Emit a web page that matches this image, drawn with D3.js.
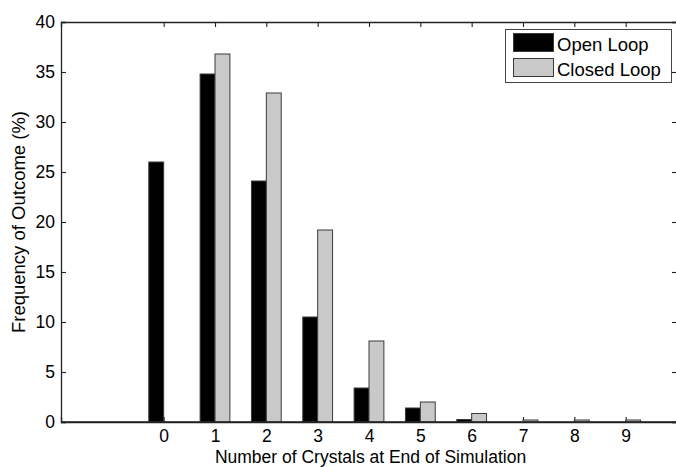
<!DOCTYPE html>
<html>
<head>
<meta charset="utf-8">
<script src="https://cdn.jsdelivr.net/npm/d3@7"></script>
<style>
  body { margin: 0; background: #fff; }
  svg text { font-family: "Liberation Sans", Arial, sans-serif; fill: #000; }
</style>
</head>
<body>
<svg id="chart" width="676" height="467"></svg>
<script>
// data
var crystals = [0, 1, 2, 3, 4, 5, 6, 7, 8, 9]
var openLoop = [26.0, 34.8, 24.1, 10.5, 3.4, 1.4, 0.25, 0, 0, 0]
var closedLoop = [0, 36.8, 32.9, 19.2, 8.1, 2.0, 0.85, 0.2, 0.2, 0.2]
var seriesNames = ["Open Loop", "Closed Loop"]
var seriesColors = ["#000000", "#c9c9c9"]
var yTicks = [0, 5, 10, 15, 20, 25, 30, 35, 40]

var svg = d3.select("#chart")

// plot box (right edge runs just past the picture, as in the figure)
var plotL = 61, plotR = 677, plotT = 22, plotB = 422

var x = d3.scaleLinear().domain([-2, 10]).range([plotL, plotR])
var y = d3.scaleLinear().domain([0, 40]).range([plotB, plotT])

var barW = x(0.29) - x(0)
var xSub = d3.scaleBand().domain(seriesNames).range([-barW, barW]).padding(0)

var axisColor = "#222"
var fontSize = "17.5px"

// axes first so the bars sit over the inward ticks
var gLeft = svg.append("g")
  .attr("transform", "translate(" + plotL + ",0)")
  .call(d3.axisLeft(y).tickValues(yTicks).tickSize(-5).tickPadding(6))
var gBottom = svg.append("g")
  .attr("transform", "translate(0," + plotB + ")")
  .call(d3.axisBottom(x).tickValues(crystals).tickSize(-5).tickPadding(8))
var gTop = svg.append("g")
  .attr("transform", "translate(0," + plotT + ")")
  .call(d3.axisTop(x).tickValues(crystals).tickSize(-5).tickFormat(""))
var gRight = svg.append("g")
  .attr("transform", "translate(" + plotR + ",0)")
  .call(d3.axisRight(y).tickValues(yTicks).tickSize(-5).tickFormat(""))

;[gLeft, gBottom, gTop, gRight].forEach(function (g) {
  g.select(".domain").attr("stroke", axisColor).attr("stroke-width", 1.3)
  g.selectAll(".tick line").attr("stroke", axisColor).attr("stroke-width", 1.1)
  g.selectAll("text").style("font-size", fontSize).attr("fill", "#000")
})

// grouped bars
var rows = crystals.map(function (c, i) {
  return { c: c, vals: [openLoop[i], closedLoop[i]] }
})

var groups = svg.append("g").selectAll("g")
  .data(rows)
  .enter().append("g")
  .attr("transform", function (d) { return "translate(" + x(d.c) + ",0)" })

groups.selectAll("rect")
  .data(function (d) { return d.vals.map(function (v, k) { return { name: seriesNames[k], v: v, k: k } }) })
  .enter().append("rect")
  .filter(function (d) { return d.v > 0 })
  .attr("x", function (d) { return xSub(d.name) })
  .attr("width", xSub.bandwidth())
  .attr("y", function (d) { return y(d.v) })
  .attr("height", function (d) { return y(0) - y(d.v) })
  .attr("fill", function (d) { return seriesColors[d.k] })
  .attr("stroke", "#3a3a3a")
  .attr("stroke-width", 1)

// baseline drawn again on top of bar bottoms
svg.append("line")
  .attr("x1", plotL).attr("x2", plotR)
  .attr("y1", plotB).attr("y2", plotB)
  .attr("stroke", axisColor).attr("stroke-width", 1.3)

// axis titles
svg.append("text")
  .attr("x", (plotL + 676) / 2 + 2)
  .attr("y", 463)
  .style("text-anchor", "middle")
  .style("font-size", fontSize)
  .text("Number of Crystals at End of Simulation")

svg.append("text")
  .attr("transform", "translate(25," + ((plotT + plotB) / 2) + ") rotate(-90)")
  .style("text-anchor", "middle")
  .style("font-size", "18.5px")
  .text("Frequency of Outcome (%)")

// legend
var legend = svg.append("g").attr("transform", "translate(505.5,29.5)")
legend.append("rect")
  .attr("width", 166).attr("height", 53)
  .attr("fill", "#fff").attr("stroke", "#444").attr("stroke-width", 1)

var items = legend.selectAll(".item")
  .data(seriesNames)
  .enter().append("g")
  .attr("class", "item")
  .attr("transform", function (d, i) { return "translate(8," + (4 + i * 25) + ")" })

items.append("rect")
  .attr("width", 40).attr("height", 18)
  .attr("fill", function (d, i) { return seriesColors[i] })
  .attr("stroke", "#3a3a3a")

items.append("text")
  .attr("x", 43.5)
  .attr("y", 17)
  .style("font-size", "18.5px")
  .text(function (d) { return d })
</script>
</body>
</html>
